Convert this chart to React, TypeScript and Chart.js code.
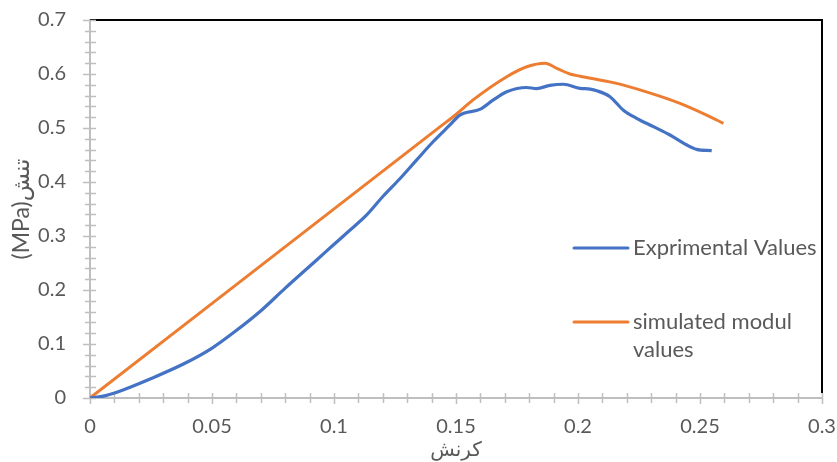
import React, { useEffect, useRef } from 'react';
import { Chart, registerables } from 'chart.js';

Chart.register(...registerables);

// ---- data ----
const expStrain = [0, 0.005, 0.0116, 0.0253, 0.0389, 0.0499, 0.0594, 0.0704, 0.0799, 0.0929, 0.0997, 0.1066, 0.1134, 0.1202, 0.127, 0.1339, 0.1407, 0.1475, 0.1516, 0.16, 0.1653, 0.1708, 0.179, 0.183, 0.1885, 0.194, 0.2008, 0.205, 0.2077, 0.2131, 0.2186, 0.224, 0.2309, 0.2377, 0.2446, 0.2486, 0.2548];
const expStress = [0, 0.003, 0.0117, 0.0365, 0.0643, 0.092, 0.123, 0.163, 0.203, 0.2556, 0.2833, 0.311, 0.339, 0.374, 0.406, 0.441, 0.475, 0.5056, 0.524, 0.535, 0.552, 0.567, 0.575, 0.573, 0.579, 0.581, 0.5735, 0.572, 0.569, 0.558, 0.533, 0.518, 0.5025, 0.487, 0.4685, 0.4605, 0.458];
const simStrain = [0, 0.1434, 0.15, 0.157, 0.1708, 0.179, 0.1865, 0.1913, 0.1967, 0.2008, 0.2145, 0.228, 0.2418, 0.2527, 0.2596];
const simStress = [0, 0.502, 0.525, 0.552, 0.595, 0.6135, 0.62, 0.6105, 0.6, 0.596, 0.584, 0.567, 0.5457, 0.524, 0.5087];
const seriesLabels = ['Exprimental Values', 'simulated modul values'];
const seriesColors = ['#4472C4', '#ED7D31'];
const xTicks = [0, 0.05, 0.1, 0.15, 0.2, 0.25, 0.3];
const yTicks = [0, 0.1, 0.2, 0.3, 0.4, 0.5, 0.6, 0.7];
const xTitle = 'کرنش';
const yTitle = '(MPa)تنش';

// ---- styling ----
const W = 837;
const H = 462;
const FONT = 'Lato, "DejaVu Sans", sans-serif';
const TEXT = '#595959';
const AXIS = '#BFBFBF';

const fmt = (v: number) => String(parseFloat(Number(v).toFixed(2)));

const zeroPad = (s: any) => {
  s.paddingLeft = 0;
  s.paddingRight = 0;
  s.paddingTop = 0;
  s.paddingBottom = 0;
};

const decorPlugin = {
  id: 'decor',
  beforeDatasetsDraw(chart: any) {
    const { ctx, chartArea: a, scales } = chart;
    const xs = scales.x;
    const ys = scales.y;
    ctx.save();
    // top / right frame
    ctx.strokeStyle = '#000';
    ctx.lineWidth = 2;
    ctx.beginPath();
    ctx.moveTo(a.left, a.top);
    ctx.lineTo(a.right, a.top);
    ctx.lineTo(a.right, a.bottom - 5);
    ctx.stroke();
    // crossing tick marks
    ctx.strokeStyle = AXIS;
    ctx.lineWidth = 1.5;
    const xMin = xTicks[0];
    const xMax = xTicks[xTicks.length - 1];
    const xMinor = (xTicks[1] - xTicks[0]) / 5;
    const nx = Math.round((xMax - xMin) / xMinor);
    for (let i = 0; i <= nx; i++) {
      const px = Math.round(xs.getPixelForValue(xMin + i * xMinor)) + 0.5;
      const major = i % 5 === 0;
      ctx.beginPath();
      ctx.moveTo(px, a.bottom - 5);
      ctx.lineTo(px, a.bottom + (major ? 6 : 5));
      ctx.stroke();
    }
    const yMin = yTicks[0];
    const yMax = yTicks[yTicks.length - 1];
    const yMinor = (yTicks[1] - yTicks[0]) / 5;
    const ny = Math.round((yMax - yMin) / yMinor);
    for (let i = 0; i <= ny; i++) {
      const py = Math.round(ys.getPixelForValue(yMin + i * yMinor)) + 0.5;
      const major = i % 5 === 0;
      ctx.beginPath();
      ctx.moveTo(a.left - (major ? 7 : 5), py);
      ctx.lineTo(a.left + 6, py);
      ctx.stroke();
    }
    ctx.restore();
  },
  afterDraw(chart: any) {
    const { ctx, chartArea: a } = chart;
    ctx.save();
    const lineLeft = a.right - 248;
    const lineRight = a.right - 194;
    const textLeft = a.right - 189;
    const maxW = a.right - textLeft + 2;
    const rowY = [a.top + 228, a.top + 302];
    const lh = 28;
    ctx.font = `22px ${FONT}`;
    ctx.textBaseline = 'middle';
    ctx.textAlign = 'left';
    chart.data.datasets.forEach((ds: any, i: number) => {
      const y = rowY[i];
      ctx.strokeStyle = ds.borderColor;
      ctx.lineWidth = 3;
      ctx.lineCap = 'round';
      ctx.beginPath();
      ctx.moveTo(lineLeft, y);
      ctx.lineTo(lineRight, y);
      ctx.stroke();
      // wrap
      const words = String(ds.label).split(' ');
      const lines: string[] = [];
      let cur = '';
      words.forEach((w) => {
        const t = cur ? cur + ' ' + w : w;
        if (cur && ctx.measureText(t).width > maxW) {
          lines.push(cur);
          cur = w;
        } else cur = t;
      });
      if (cur) lines.push(cur);
      ctx.fillStyle = TEXT;
      lines.forEach((ln, k) => ctx.fillText(ln, textLeft, y + k * lh));
    });
    ctx.restore();
  },
};

export default function App() {
  const ref = useRef<HTMLCanvasElement>(null);
  useEffect(() => {
    const chart = new Chart(ref.current as HTMLCanvasElement, {
      type: 'line',
      data: {
        datasets: [
          {
            label: seriesLabels[0],
            data: expStrain.map((x, i) => ({ x, y: expStress[i] })),
            borderColor: seriesColors[0],
            backgroundColor: seriesColors[0],
            borderWidth: 3.2,
            pointRadius: 0,
            cubicInterpolationMode: 'monotone',
            fill: false,
          },
          {
            label: seriesLabels[1],
            data: simStrain.map((x, i) => ({ x, y: simStress[i] })),
            borderColor: seriesColors[1],
            backgroundColor: seriesColors[1],
            borderWidth: 3,
            pointRadius: 0,
            cubicInterpolationMode: 'monotone',
            fill: false,
          },
        ],
      },
      options: {
        responsive: false,
        animation: false,
        devicePixelRatio: 1,
        layout: { padding: { top: 20, right: 15, left: 0, bottom: 0 } },
        plugins: { legend: { display: false }, tooltip: { enabled: false } },
        scales: {
          x: {
            type: 'linear',
            min: xTicks[0],
            max: xTicks[xTicks.length - 1],
            afterFit: (s: any) => { s.height = 64; zeroPad(s); },
            afterBuildTicks: (s: any) => { s.ticks = xTicks.map((v) => ({ value: v })); },
            ticks: {
              callback: (v: any) => fmt(v),
              color: TEXT,
              font: { family: FONT, size: 20 },
              padding: 17,
              maxRotation: 0,
            },
            grid: { display: false, drawTicks: false },
            border: { display: true, color: AXIS, width: 2 },
            title: {
              display: true,
              text: xTitle,
              color: TEXT,
              font: { family: FONT, size: 20 },
              padding: { top: 0, bottom: 0 },
            },
          },
          y: {
            type: 'linear',
            min: yTicks[0],
            max: yTicks[yTicks.length - 1],
            afterFit: (s: any) => { s.width = 90; zeroPad(s); },
            afterBuildTicks: (s: any) => { s.ticks = yTicks.map((v) => ({ value: v })); },
            ticks: {
              callback: (v: any) => fmt(v),
              color: TEXT,
              font: { family: FONT, size: 20 },
              padding: 24,
            },
            grid: { display: false, drawTicks: false },
            border: { display: true, color: AXIS, width: 2 },
            title: {
              display: true,
              text: yTitle,
              color: TEXT,
              font: { family: FONT, size: 23 },
              padding: { top: 8, bottom: 0 },
            },
          },
        },
      },
      plugins: [decorPlugin],
    } as any);
    return () => chart.destroy();
  }, []);
  return (
    <div style={{ position: 'fixed', left: 0, top: 0, width: W, height: H, background: '#fff' }}>
      <canvas ref={ref} width={W} height={H} style={{ display: 'block', width: W, height: H }} />
    </div>
  );
}
